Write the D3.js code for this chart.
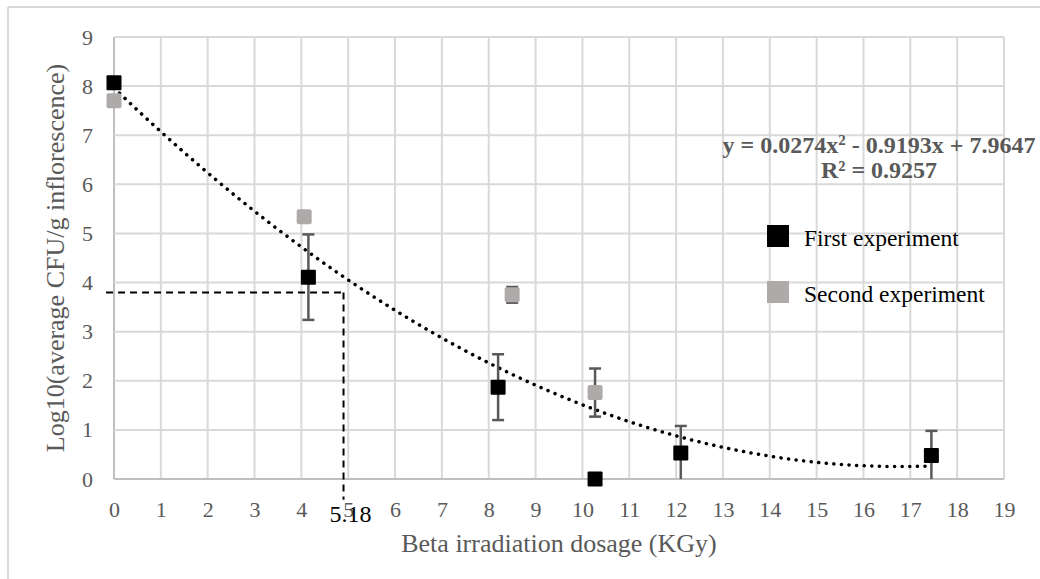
<!DOCTYPE html>
<html>
<head>
<meta charset="utf-8">
<script src="https://cdn.jsdelivr.net/npm/d3@7"></script>
<style>
  body { margin: 0; background: #fff; }
  text { font-family: 'Liberation Serif', 'Times New Roman', serif; }
</style>
</head>
<body>
<svg id="chart" width="1040" height="579"></svg>
<script>
// data
let xTicks = d3.range(0, 20)
let yTicks = d3.range(0, 10)

let firstX = [0, 4.15, 8.2, 10.27, 12.1, 17.45]
let firstY = [8.07, 4.11, 1.87, 0, 0.53, 0.48]
let firstErr = [0, 0.87, 0.67, 0, 0.55, 0.5]

let secondX = [0, 4.06, 8.5, 10.27]
let secondY = [7.7, 5.34, 3.75, 1.76]
let secondErr = [0, 0, 0.16, 0.49]

// trendline coefficients from the label (a x^2 + b x + c)
let trendCoef = [0.0274, -0.9193, 7.9647]
let trendRange = [0, 17.45]

// dashed reading lines and their label
let refX = [4.9]
let refY = [3.8]
let refLabel = ['5.18']

let legendNames = ['First experiment', 'Second experiment']
let legendColors = ['#000000', '#aeaaaa']

let svg = d3.select('#chart')

let x = d3.scaleLinear().domain([0, 19]).range([114, 1004])
let y = d3.scaleLinear().domain([0, 9]).range([479, 37])

// outer frame (only top and left show)
svg.append('line').attr('x1', 8).attr('x2', 1040).attr('y1', 7).attr('y2', 7)
  .attr('stroke', '#d9d9d9').attr('stroke-width', 2)
svg.append('line').attr('x1', 8).attr('x2', 8).attr('y1', 7).attr('y2', 579)
  .attr('stroke', '#d9d9d9').attr('stroke-width', 2)

// grid
let grid = svg.append('g')
grid.selectAll('.vg').data(xTicks).enter().append('line')
  .attr('x1', d => x(d)).attr('x2', d => x(d))
  .attr('y1', y(9)).attr('y2', y(0))
  .attr('stroke', d => d === 0 ? '#bfbfbf' : '#d9d9d9').attr('stroke-width', 2)
grid.selectAll('.hg').data(yTicks).enter().append('line')
  .attr('x1', x(0)).attr('x2', x(19))
  .attr('y1', d => y(d)).attr('y2', d => y(d))
  .attr('stroke', d => d === 0 ? '#bfbfbf' : '#d9d9d9').attr('stroke-width', 2)

// axes (labels only)
svg.append('g').attr('transform', 'translate(0,' + y(0) + ')')
  .call(d3.axisBottom(x).tickValues(xTicks).tickSize(0).tickPadding(22))
svg.append('g').attr('transform', 'translate(' + x(0) + ',0)')
  .call(d3.axisLeft(y).tickValues(yTicks).tickSize(0).tickPadding(21))
svg.selectAll('.domain').remove()
svg.selectAll('.tick text')
  .attr('fill', '#595959')
  .style('font-family', "'Liberation Serif', serif")
  .style('font-size', '22px')

// axis titles
svg.append('text')
  .attr('x', (x(0) + x(19)) / 2).attr('y', 552)
  .attr('text-anchor', 'middle').attr('fill', '#595959')
  .style('font-size', '26px')
  .text('Beta irradiation dosage (KGy)')
svg.append('text')
  .attr('transform', 'translate(64,' + (y(0) + y(9)) / 2 + ') rotate(-90)')
  .attr('text-anchor', 'middle').attr('fill', '#595959')
  .style('font-size', '26px')
  .text('Log10(average CFU/g inflorescence)')

// dashed reading lines
svg.append('line')
  .attr('x1', x(-0.17)).attr('x2', x(refX[0]))
  .attr('y1', y(refY[0])).attr('y2', y(refY[0]))
  .attr('stroke', '#000').attr('stroke-width', 2).attr('stroke-dasharray', '7,5')
svg.append('line')
  .attr('x1', x(refX[0])).attr('x2', x(refX[0]))
  .attr('y1', y(refY[0])).attr('y2', y(-0.42))
  .attr('stroke', '#000').attr('stroke-width', 2).attr('stroke-dasharray', '7,5')
svg.append('text')
  .attr('x', x(refX[0]) + 7).attr('y', 522)
  .attr('text-anchor', 'middle').attr('fill', '#000')
  .style('font-size', '24px')
  .text(refLabel[0])

// trendline
let trendPts = d3.range(trendRange[0], trendRange[1], 0.05).concat([trendRange[1]])
  .map(v => [v, trendCoef[0] * v * v + trendCoef[1] * v + trendCoef[2]])
svg.append('path')
  .datum(trendPts)
  .attr('d', d3.line().x(d => x(d[0])).y(d => y(d[1])))
  .attr('fill', 'none').attr('stroke', '#000').attr('stroke-width', 3.5)
  .attr('stroke-linecap', 'round').attr('stroke-dasharray', '0.1,7.5')

// series helper
function drawSeries (xs, ys, errs, color, rx) {
  let pts = xs.map((v, i) => ({ x: v, y: ys[i], e: errs[i] }))
  let g = svg.append('g')
  let eb = g.selectAll('.eb').data(pts.filter(d => d.e > 0)).enter().append('g')
  eb.append('line')
    .attr('x1', d => x(d.x)).attr('x2', d => x(d.x))
    .attr('y1', d => y(d.y + d.e)).attr('y2', d => y(Math.max(0, d.y - d.e)))
    .attr('stroke', '#595959').attr('stroke-width', 2.5)
  eb.append('line')
    .attr('x1', d => x(d.x) - 6).attr('x2', d => x(d.x) + 6)
    .attr('y1', d => y(d.y + d.e)).attr('y2', d => y(d.y + d.e))
    .attr('stroke', '#595959').attr('stroke-width', 2.5)
  eb.filter(d => d.y - d.e > 0).append('line')
    .attr('x1', d => x(d.x) - 6).attr('x2', d => x(d.x) + 6)
    .attr('y1', d => y(d.y - d.e)).attr('y2', d => y(d.y - d.e))
    .attr('stroke', '#595959').attr('stroke-width', 2.5)
  g.selectAll('rect').data(pts).enter().append('rect')
    .attr('x', d => x(d.x) - 7.5).attr('y', d => y(d.y) - 7.5)
    .attr('width', 15).attr('height', 15).attr('rx', rx)
    .attr('fill', color)
}

drawSeries(secondX, secondY, secondErr, legendColors[1], 2)
drawSeries(firstX, firstY, firstErr, legendColors[0], 1)

// trend equation
let eq = svg.append('text')
  .attr('x', 879).attr('y', 153)
  .attr('text-anchor', 'middle').attr('fill', '#595959')
  .style('font-size', '24px').style('font-weight', 'bold')
eq.append('tspan').text('y = 0.0274x')
eq.append('tspan').attr('dy', -8).style('font-size', '15px').text('2')
eq.append('tspan').attr('dy', 8).text(' - 0.9193x + 7.9647')
svg.append('text')
  .attr('x', 879).attr('y', 178)
  .attr('text-anchor', 'middle').attr('fill', '#595959')
  .style('font-size', '24px').style('font-weight', 'bold')
  .text('R² = 0.9257')

// legend
let leg = svg.append('g').selectAll('g').data(legendNames).enter().append('g')
  .attr('transform', (d, i) => 'translate(767,' + (225 + i * 56) + ')')
leg.append('rect').attr('width', 22).attr('height', 22)
  .attr('fill', (d, i) => legendColors[i])
leg.append('text').attr('x', 37).attr('y', 21)
  .attr('fill', '#000').style('font-size', '23.5px')
  .text(d => d)
</script>
</body>
</html>
